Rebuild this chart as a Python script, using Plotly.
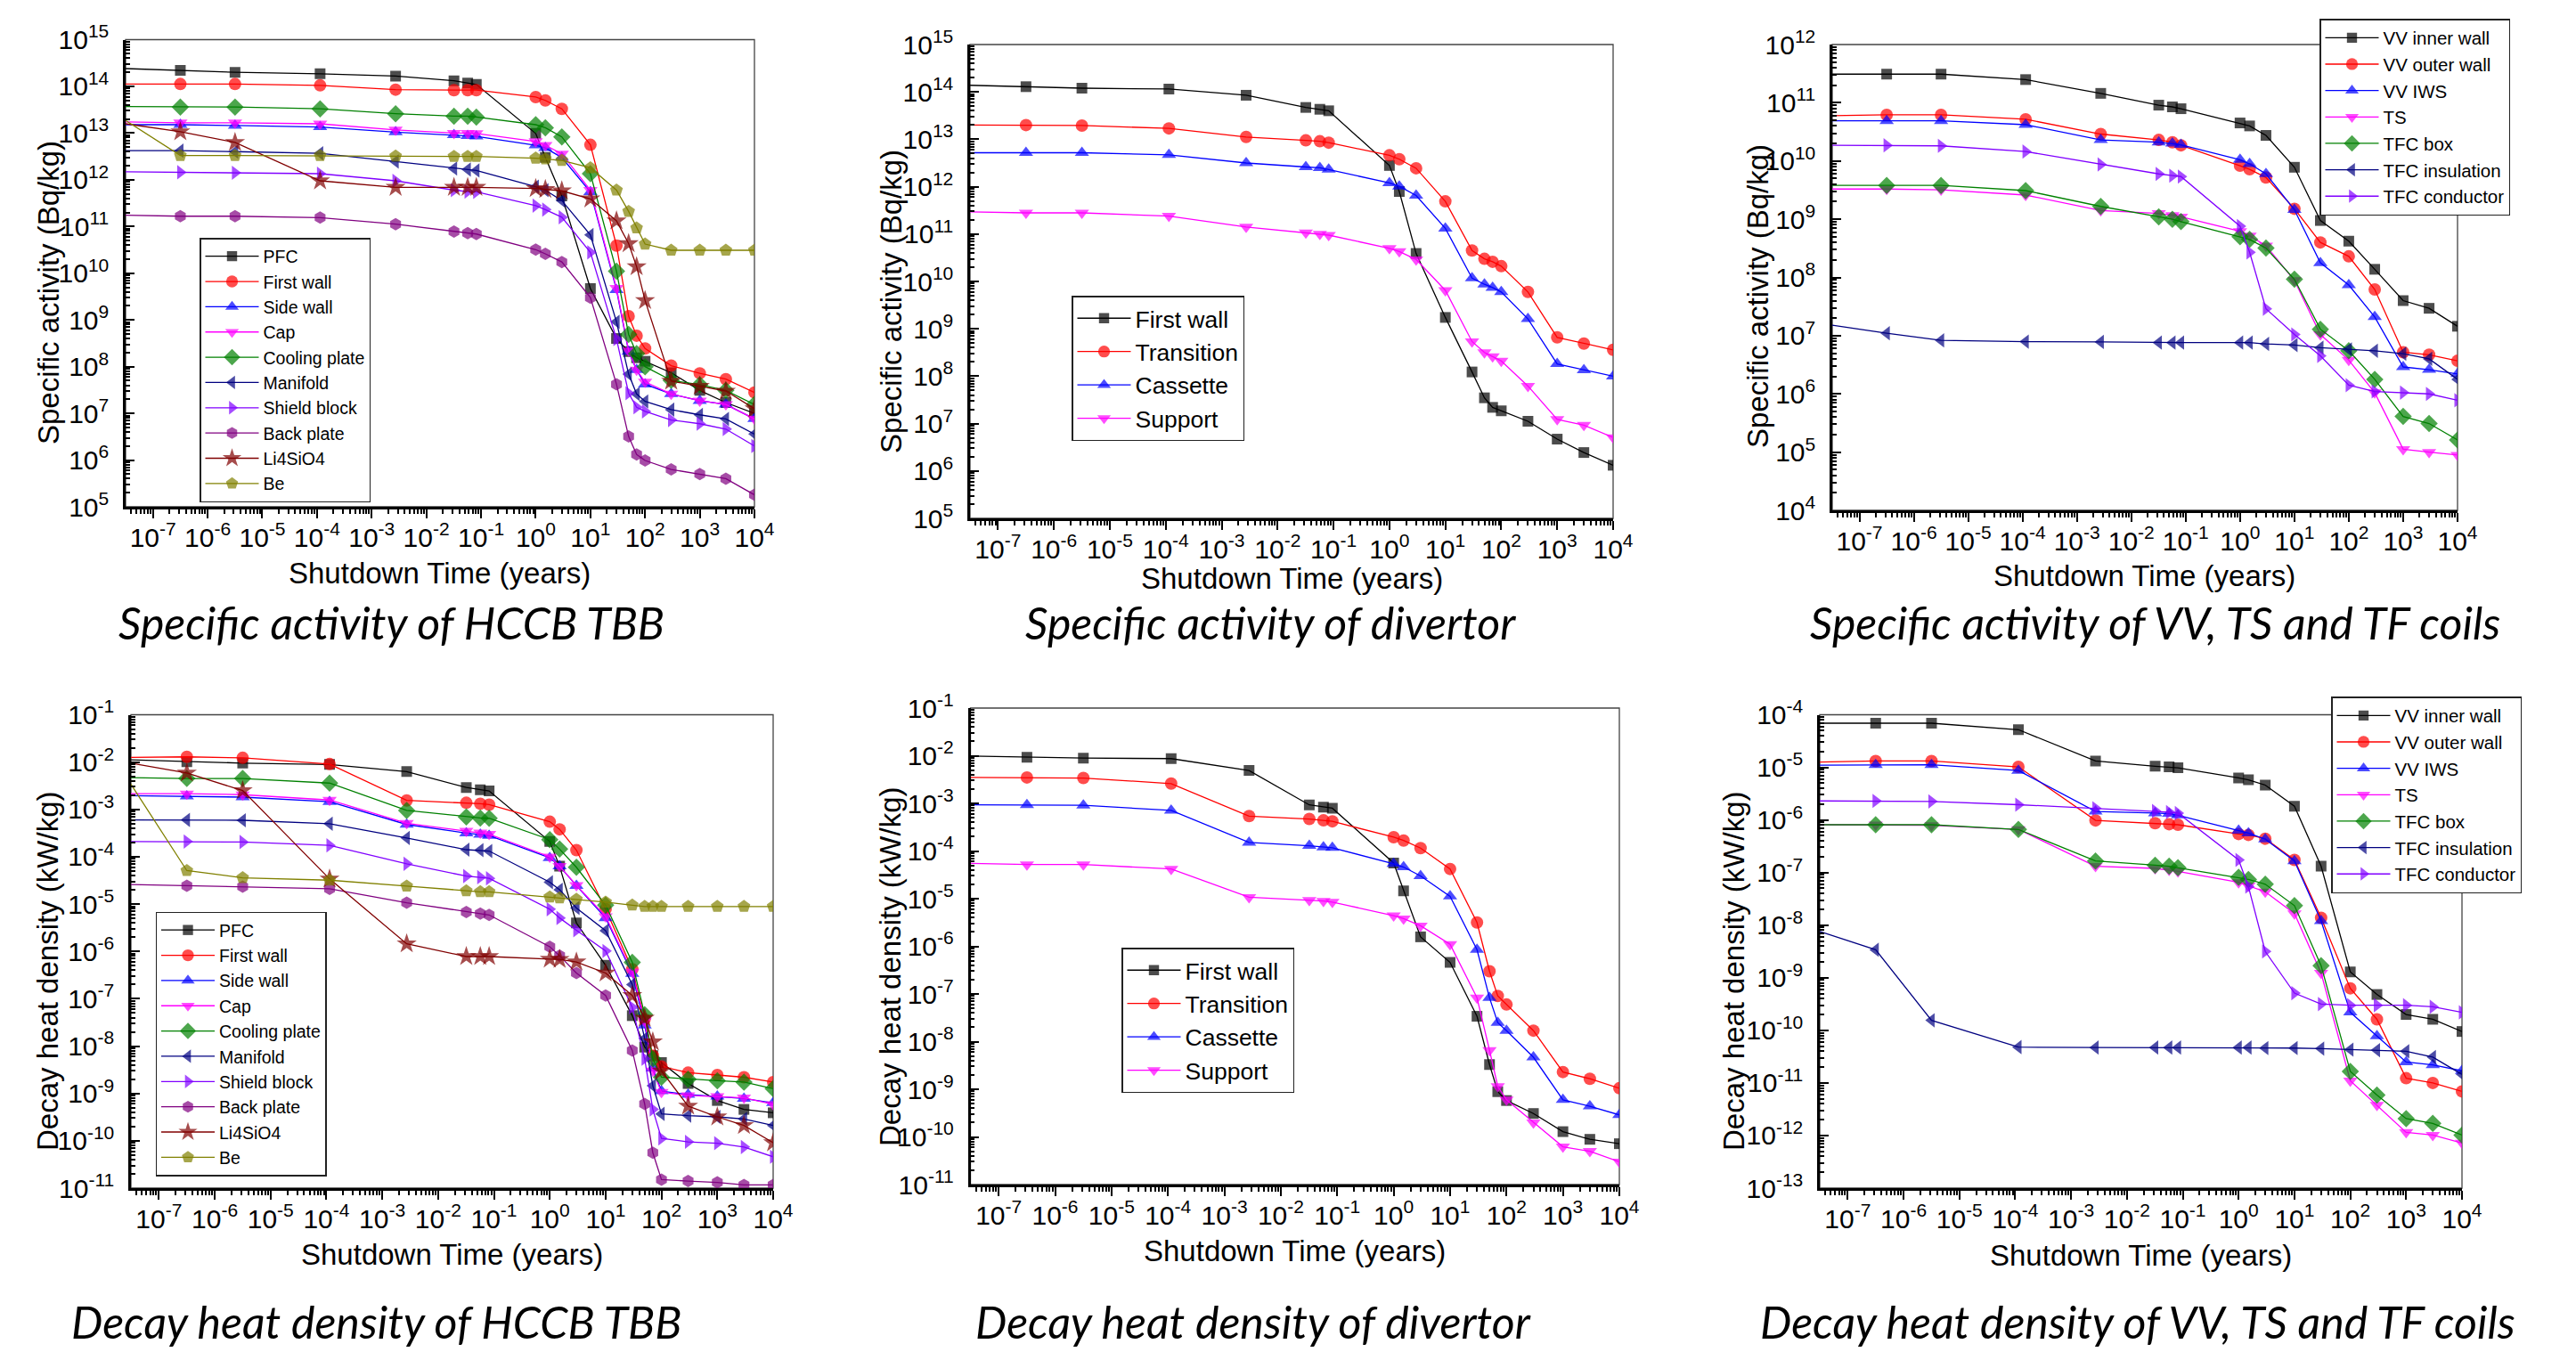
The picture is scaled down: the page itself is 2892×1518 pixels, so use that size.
import plotly.graph_objects as go

W, H = 2892, 1518   # browser window
OFF = 8             # default page body margin shifts the figure by this many pixels
FW, FH = W - OFF, H - OFF

# ---------------- data ----------------
# shutdown times (years)
T_BLANKET = [3.17e-8, 3.17e-7, 3.17e-6, 1.14e-4, 2.74e-3, 0.032, 0.057, 0.082,
             1, 1.5, 3, 10, 30, 50, 70, 100, 300, 1000, 3000, 10000]
T_COILS = [3.17e-8, 3.17e-7, 3.17e-6, 1.14e-4, 2.74e-3, 0.032, 0.057, 0.082,
           1, 1.5, 3, 10, 30, 100, 300, 1000, 3000, 10000]

TBB_NAMES = ["PFC", "First wall", "Side wall", "Cap", "Cooling plate", "Manifold",
             "Shield block", "Back plate", "Li4SiO4", "Be"]
DIV_NAMES = ["First wall", "Transition", "Cassette", "Support"]
VV_NAMES = ["VV inner wall", "VV outer wall", "VV IWS", "TS", "TFC box",
            "TFC insulation", "TFC conductor"]

# Specific activity of HCCB TBB (Bq/kg)
tbb_sa_pfc = [2.4e14, 2.2e14, 2.0e14, 1.86e14, 1.66e14, 1.32e14, 1.17e14, 1.1e14, 9.8e12, 3.0e12,
              4.5e11, 4.7e9, 4.0e8, 2.1e8, 1.55e8, 1.3e8, 7.4e7, 3.1e7, 1.7e7, 1.0e7]
tbb_sa_fw = [1.12e14, 1.12e14, 1.12e14, 1.05e14, 8.5e13, 8.3e13, 8.3e13, 8.3e13, 5.9e13, 5.0e13,
             3.3e13, 5.6e12, 3.9e10, 1.2e9, 4.6e8, 2.45e8, 1.05e8, 7.2e7, 5.4e7, 2.8e7]
tbb_sa_side = [1.51e13, 1.51e13, 1.45e13, 1.35e13, 1.05e13, 9.1e12, 8.7e12, 8.5e12, 5.5e12, 4.8e12,
               3.0e12, 5.5e11, 4.4e9, 2.1e8, 8.5e7, 4.2e7, 2.6e7, 1.86e7, 1.55e7, 7.6e6]
tbb_sa_cap = [1.74e13, 1.66e13, 1.66e13, 1.58e13, 1.17e13, 1.0e13, 1.0e13, 9.8e12, 6.6e12, 5.5e12,
              3.6e12, 6.0e11, 4.8e9, 2.2e8, 8.5e7, 4.7e7, 2.6e7, 1.86e7, 1.55e7, 7.6e6]
tbb_sa_cool = [3.7e13, 3.6e13, 3.6e13, 3.3e13, 2.6e13, 2.3e13, 2.3e13, 2.2e13, 1.51e13, 1.3e13,
               8.3e12, 1.35e12, 1.1e10, 4.9e8, 1.9e8, 1.0e8, 5.1e7, 4.1e7, 3.1e7, 1.55e7]
tbb_sa_manifold = [4.2e12, 4.2e12, 4.0e12, 3.7e12, 2.45e12, 1.74e12, 1.66e12, 1.58e12, 7.1e11, 6.0e11,
                   3.6e11, 6.6e10, 9.1e8, 6.9e7, 2.6e7, 1.8e7, 1.2e7, 9.3e6, 7.6e6, 3.6e6]
tbb_sa_shield = [1.48e12, 1.45e12, 1.41e12, 1.35e12, 9.5e11, 6.0e11, 5.6e11, 5.5e11, 2.8e11, 2.3e11,
                 1.58e11, 2.8e10, 3.9e8, 2.7e7, 1.35e7, 1.1e7, 7.2e6, 6.0e6, 4.6e6, 2.0e6]
tbb_sa_back = [1.74e11, 1.66e11, 1.66e11, 1.55e11, 1.12e11, 7.8e10, 7.2e10, 6.9e10, 3.2e10, 2.6e10,
               1.74e10, 3.0e9, 4.2e7, 3.2e6, 1.32e6, 9.8e5, 6.3e5, 5.0e5, 4.0e5, 1.8e5]
tbb_sa_li4sio4 = [1.58e13, 1.07e13, 6.3e12, 9.5e11, 6.9e11, 6.9e11, 6.9e11, 6.9e11, 6.5e11, 6.2e11,
                  5.8e11, 3.9e11, 1.32e11, 4.3e10, 1.38e10, 2.6e9, 4.9e7, 3.8e7, 3.0e7, 1.26e7]
tbb_sa_be = [1.86e13, 3.3e12, 3.3e12, 3.3e12, 3.2e12, 3.16e12, 3.16e12, 3.16e12, 2.9e12, 2.8e12,
             2.6e12, 1.8e12, 6.0e11, 2.1e11, 9.3e10, 4.2e10, 3.1e10, 3.1e10, 3.1e10, 3.1e10]

# Specific activity of divertor (Bq/kg)
div_sa_fw = [1.38e14, 1.29e14, 1.2e14, 1.15e14, 8.5e13, 4.7e13, 4.3e13, 4.0e13, 2.8e12, 7.9e11,
             3.9e10, 1.74e9, 1.23e8, 3.5e7, 2.2e7, 1.86e7, 1.12e7, 4.7e6, 2.45e6, 1.32e6]
div_sa_trans = [2.0e13, 2.0e13, 1.95e13, 1.7e13, 1.12e13, 9.5e12, 9.1e12, 8.5e12, 4.6e12, 3.8e12,
                2.45e12, 4.9e11, 4.5e10, 3.0e10, 2.6e10, 2.1e10, 6.0e9, 6.6e8, 4.9e8, 3.6e8]
div_sa_cass = [5.2e12, 5.2e12, 5.2e12, 4.7e12, 3.16e12, 2.6e12, 2.5e12, 2.3e12, 1.2e12, 1.02e12,
               6.5e11, 1.32e11, 1.17e10, 8.7e9, 7.4e9, 6.0e9, 1.62e9, 1.82e8, 1.35e8, 1.0e8]
div_sa_supp = [2.95e11, 2.8e11, 2.8e11, 2.4e11, 1.41e11, 1.07e11, 1.0e11, 9.5e10, 5.0e10, 4.3e10,
               2.9e10, 6.5e9, 5.4e8, 3.16e8, 2.6e8, 2.1e8, 6.2e7, 1.23e7, 9.3e6, 5.1e6]

# Specific activity of VV, TS and TF coils (Bq/kg)
vv_sa_inner = [3.1e11, 3.1e11, 3.1e11, 2.5e11, 1.45e11, 9.1e10, 8.5e10, 7.9e10, 4.5e10, 4.0e10,
               2.75e10, 7.8e9, 9.5e8, 4.2e8, 1.38e8, 4.0e7, 2.95e7, 1.45e7]
vv_sa_outer = [6.0e10, 6.2e10, 6.2e10, 5.2e10, 2.9e10, 2.3e10, 2.1e10, 1.86e10, 8.3e9, 7.2e9,
               5.2e9, 1.51e9, 4.0e8, 2.3e8, 6.2e7, 5.2e6, 4.7e6, 3.7e6]
vv_sa_iws = [4.9e10, 4.9e10, 4.9e10, 4.2e10, 2.3e10, 2.1e10, 2.0e10, 1.9e10, 1.05e10, 8.9e9,
             6.0e9, 1.45e9, 1.78e8, 7.4e7, 2.1e7, 2.9e6, 2.6e6, 2.2e6]
vv_sa_ts = [3.3e9, 3.3e9, 3.2e9, 2.6e9, 1.41e9, 1.26e9, 1.17e9, 1.1e9, 6.2e8, 5.2e8,
            3.5e8, 8.9e7, 1.05e7, 3.8e6, 1.05e6, 1.12e5, 1.0e5, 8.9e4]
vv_sa_tfbox = [3.8e9, 3.8e9, 3.8e9, 3.1e9, 1.66e9, 1.1e9, 1.0e9, 9.1e8, 5.0e8, 4.5e8,
               3.2e8, 9.3e7, 1.29e7, 5.5e6, 1.78e6, 4.1e5, 3.1e5, 1.62e5]
vv_sa_tfins = [1.51e7, 1.1e7, 8.3e6, 7.9e6, 7.8e6, 7.6e6, 7.6e6, 7.6e6, 7.6e6, 7.6e6,
               7.2e6, 6.9e6, 6.2e6, 5.8e6, 5.5e6, 4.9e6, 4.0e6, 1.78e6]
vv_sa_tfcond = [1.86e10, 1.86e10, 1.82e10, 1.45e10, 8.7e9, 6.0e9, 5.6e9, 5.4e9, 7.6e8, 2.7e8,
                2.9e7, 1.05e7, 4.5e6, 1.41e6, 1.1e6, 1.05e6, 1.0e6, 7.8e5]

# Decay heat density of HCCB TBB (kW/kg)
tbb_dh_pfc = [1.12e-2, 1.02e-2, 9.5e-3, 8.9e-3, 6.3e-3, 2.9e-3, 2.6e-3, 2.45e-3, 2.1e-4, 6.3e-5,
              4.0e-6, 5.1e-7, 4.4e-8, 9.5e-9, 6.3e-9, 4.5e-9, 1.62e-9, 7.1e-10, 4.6e-10, 3.9e-10]
tbb_dh_fw = [1.26e-2, 1.29e-2, 1.23e-2, 9.1e-3, 1.55e-3, 1.38e-3, 1.32e-3, 1.26e-3, 5.5e-4, 3.8e-4,
             1.38e-4, 7.8e-6, 4.2e-7, 3.7e-8, 6.3e-9, 3.7e-9, 2.75e-9, 2.45e-9, 2.2e-9, 1.74e-9]
tbb_dh_side = [1.95e-3, 1.9e-3, 1.82e-3, 1.45e-3, 4.8e-4, 3.16e-4, 2.95e-4, 2.8e-4, 9.5e-5, 6.3e-5,
               2.45e-5, 5.1e-6, 3.4e-7, 2.75e-8, 3.4e-9, 1.12e-9, 9.5e-10, 8.7e-10, 7.8e-10, 6.3e-10]
tbb_dh_cap = [2.15e-3, 2.15e-3, 2.05e-3, 1.58e-3, 5.1e-4, 3.5e-4, 3.2e-4, 3.0e-4, 1.0e-4, 6.3e-5,
              2.5e-5, 5.5e-6, 3.7e-7, 3.4e-8, 3.0e-9, 1.07e-9, 9.1e-10, 8.7e-10, 8.1e-10, 5.9e-10]
tbb_dh_cool = [4.7e-3, 4.5e-3, 4.5e-3, 3.6e-3, 9.5e-4, 6.9e-4, 6.6e-4, 6.5e-4, 2.3e-4, 1.45e-4,
               6.0e-5, 9.5e-6, 5.9e-7, 4.6e-8, 5.4e-9, 2.2e-9, 2.0e-9, 1.86e-9, 1.74e-9, 1.26e-9]
tbb_dh_manifold = [6.0e-4, 6.0e-4, 5.9e-4, 5.0e-4, 2.5e-4, 1.41e-4, 1.38e-4, 1.32e-4, 2.9e-5, 2.0e-5,
                   8.3e-6, 2.75e-6, 2.0e-7, 1.45e-8, 1.45e-9, 3.7e-10, 3.4e-10, 3.2e-10, 2.9e-10, 2.1e-10]
tbb_dh_shield = [2.1e-4, 2.1e-4, 2.05e-4, 1.74e-4, 7.1e-5, 3.9e-5, 3.7e-5, 3.5e-5, 7.8e-6, 5.1e-6,
                 2.8e-6, 1.02e-6, 6.6e-8, 5.4e-9, 4.6e-10, 1.12e-10, 9.5e-11, 8.9e-11, 7.4e-11, 4.6e-11]
tbb_dh_back = [2.6e-5, 2.45e-5, 2.35e-5, 2.1e-5, 1.07e-5, 6.8e-6, 6.3e-6, 5.9e-6, 1.26e-6, 8.1e-7,
               3.5e-7, 1.17e-7, 8.1e-9, 6.0e-10, 5.6e-11, 1.51e-11, 1.41e-11, 1.32e-11, 1.17e-11, 1.17e-11]
tbb_dh_li4sio4 = [9.5e-3, 5.9e-3, 2.5e-3, 3.4e-5, 1.45e-6, 7.8e-7, 7.8e-7, 7.8e-7, 6.9e-7, 6.8e-7,
                  6.0e-7, 3.5e-7, 1.17e-7, 3.9e-8, 1.23e-8, 3.0e-9, 5.4e-10, 3.2e-10, 2.1e-10, 9.1e-11]
tbb_dh_be = [3.4e-3, 5.1e-5, 3.6e-5, 3.2e-5, 2.4e-5, 1.9e-5, 1.82e-5, 1.82e-5, 1.41e-5, 1.35e-5,
             1.26e-5, 1.1e-5, 9.5e-6, 8.9e-6, 8.9e-6, 8.9e-6, 8.9e-6, 8.9e-6, 8.9e-6, 8.9e-6]

# Decay heat density of divertor (kW/kg)
div_dh_fw = [9.8e-3, 9.3e-3, 8.9e-3, 8.7e-3, 4.9e-3, 9.3e-4, 8.3e-4, 7.9e-4, 5.6e-5, 1.45e-5,
             1.58e-6, 4.6e-7, 3.4e-8, 3.3e-9, 8.9e-10, 5.8e-10, 3.1e-10, 1.29e-10, 8.9e-11, 7.2e-11]
div_dh_trans = [3.5e-3, 3.5e-3, 3.4e-3, 2.6e-3, 5.4e-4, 4.7e-4, 4.4e-4, 4.2e-4, 1.95e-4, 1.66e-4,
                1.15e-4, 4.2e-5, 3.16e-6, 3.0e-7, 9.1e-8, 6.0e-8, 1.7e-8, 2.3e-9, 1.66e-9, 1.05e-9]
div_dh_cass = [9.3e-4, 9.3e-4, 9.1e-4, 7.1e-4, 1.51e-4, 1.29e-4, 1.2e-4, 1.17e-4, 5.4e-5, 4.6e-5,
               3.0e-5, 1.12e-5, 8.5e-7, 8.3e-8, 2.5e-8, 1.7e-8, 4.7e-9, 6.0e-10, 4.4e-10, 2.9e-10]
div_dh_supp = [5.5e-5, 5.2e-5, 5.2e-5, 4.2e-5, 1.07e-5, 9.3e-6, 8.9e-6, 8.5e-6, 4.4e-6, 3.8e-6,
               2.7e-6, 1.1e-6, 8.3e-8, 6.6e-9, 1.15e-9, 6.0e-10, 2.0e-10, 6.2e-11, 5.0e-11, 3.0e-11]

# Decay heat density of VV, TS and TF coils (kW/kg)
vv_dh_inner = [6.9e-5, 6.9e-5, 6.9e-5, 5.2e-5, 1.32e-5, 1.05e-5, 1.02e-5, 9.8e-6, 6.3e-6, 5.8e-6,
               4.6e-6, 1.82e-6, 1.32e-7, 1.29e-9, 4.8e-10, 2.0e-10, 1.62e-10, 9.5e-11]
vv_dh_outer = [1.26e-5, 1.32e-5, 1.32e-5, 1.02e-5, 9.8e-7, 8.7e-7, 8.3e-7, 8.1e-7, 5.4e-7, 5.2e-7,
               4.4e-7, 1.74e-7, 1.38e-8, 6.3e-10, 1.62e-10, 1.23e-11, 1.0e-11, 6.9e-12]
vv_dh_iws = [1.1e-5, 1.12e-5, 1.12e-5, 8.7e-6, 1.45e-6, 1.35e-6, 1.32e-6, 1.23e-6, 6.3e-7, 5.6e-7,
             4.3e-7, 1.66e-7, 1.2e-8, 2.2e-10, 7.8e-11, 2.5e-11, 2.2e-11, 1.7e-11]
vv_dh_ts = [8.1e-7, 8.1e-7, 7.9e-7, 6.6e-7, 1.32e-7, 1.2e-7, 1.12e-7, 1.05e-7, 6.5e-8, 5.6e-8,
            4.3e-8, 1.66e-8, 1.23e-9, 1.1e-11, 3.8e-12, 1.15e-12, 1.02e-12, 7.2e-13]
vv_dh_tfbox = [8.1e-7, 8.1e-7, 8.1e-7, 6.6e-7, 1.66e-7, 1.38e-7, 1.32e-7, 1.23e-7, 8.1e-8, 7.4e-8,
               6.0e-8, 2.35e-8, 1.7e-9, 1.66e-11, 5.9e-12, 2.1e-12, 1.7e-12, 1.02e-12]
vv_dh_tfins = [7.6e-9, 3.4e-9, 1.55e-10, 4.8e-11, 4.7e-11, 4.7e-11, 4.7e-11, 4.7e-11, 4.7e-11, 4.7e-11,
               4.6e-11, 4.6e-11, 4.5e-11, 4.3e-11, 4.2e-11, 4.0e-11, 3.1e-11, 1.45e-11]
vv_dh_tfcond = [2.3e-6, 2.3e-6, 2.25e-6, 1.95e-6, 1.66e-6, 1.48e-6, 1.41e-6, 1.35e-6, 1.74e-7, 5.4e-8,
                3.16e-9, 5.1e-10, 3.16e-10, 3.0e-10, 3.0e-10, 3.0e-10, 2.8e-10, 2.2e-10]

# tick exponents
X_EXP = [-7, -6, -5, -4, -3, -2, -1, 0, 1, 2, 3, 4]
Y_EXP_SA_TBB = [5, 6, 7, 8, 9, 10, 11, 12, 13, 14, 15]
Y_EXP_SA_DIV = [5, 6, 7, 8, 9, 10, 11, 12, 13, 14, 15]
Y_EXP_SA_VV = [4, 5, 6, 7, 8, 9, 10, 11, 12]
Y_EXP_DH_TBB = [-11, -10, -9, -8, -7, -6, -5, -4, -3, -2, -1]
Y_EXP_DH_DIV = [-11, -10, -9, -8, -7, -6, -5, -4, -3, -2, -1]
Y_EXP_DH_VV = [-13, -12, -11, -10, -9, -8, -7, -6, -5, -4]

SA_TITLE = "Specific activity (Bq/kg)"
DH_TITLE = "Decay heat density (kW/kg)"
X_TITLE = "Shutdown Time (years)"
CAPTIONS = ["Specific activity of HCCB TBB", "Specific activity of divertor",
            "Specific activity of VV, TS and TF coils", "Decay heat density of HCCB TBB",
            "Decay heat density of divertor", "Decay heat density of VV, TS and TF coils"]

# ---------------- styles ----------------
TBB_STYLE = [("#000000", "square"), ("#FF0000", "circle"), ("#0000FF", "triangle-up"),
             ("#FF00FF", "triangle-down"), ("#008000", "diamond"), ("#000080", "triangle-left"),
             ("#8000FF", "triangle-right"), ("#800080", "hexagon"), ("#800000", "star"),
             ("#808000", "pentagon")]
DIV_STYLE = TBB_STYLE[:4]
VV_STYLE = TBB_STYLE[:7]
MSIZE = {"square": 12, "circle": 14, "triangle-up": 14, "triangle-down": 14, "diamond": 15,
         "triangle-left": 14, "triangle-right": 14, "hexagon": 14, "star": 17, "pentagon": 15}

# layout positions in window pixels: plot box (left, right, top, bottom), axis-title centres,
# caption centre and legend top-left corner
panels = [
    dict(t=T_BLANKET, names=TBB_NAMES, style=TBB_STYLE, yexp=Y_EXP_SA_TBB, ytitle=SA_TITLE,
         vals=[tbb_sa_pfc, tbb_sa_fw, tbb_sa_side, tbb_sa_cap, tbb_sa_cool, tbb_sa_manifold,
               tbb_sa_shield, tbb_sa_back, tbb_sa_li4sio4, tbb_sa_be],
         box=(141, 847, 44.5, 569), xt=(493, 643), yt=(54, 329), cap=(440, 699),
         leg=(224, 267), legfs=19.5),
    dict(t=T_BLANKET, names=DIV_NAMES, style=DIV_STYLE, yexp=Y_EXP_SA_DIV, ytitle=SA_TITLE,
         vals=[div_sa_fw, div_sa_trans, div_sa_cass, div_sa_supp],
         box=(1089, 1811, 50, 582), xt=(1450, 649), yt=(1000, 339), cap=(1426, 699),
         leg=(1203, 332), legfs=26.5),
    dict(t=T_COILS, names=VV_NAMES, style=VV_STYLE, yexp=Y_EXP_SA_VV, ytitle=SA_TITLE,
         vals=[vv_sa_inner, vv_sa_outer, vv_sa_iws, vv_sa_ts, vv_sa_tfbox, vv_sa_tfins, vv_sa_tfcond],
         box=(2057, 2759, 50, 573), xt=(2407, 647), yt=(1973, 333), cap=(2419, 699),
         leg=(2604, 21), legfs=20.5),
    dict(t=T_BLANKET, names=TBB_NAMES, style=TBB_STYLE, yexp=Y_EXP_DH_TBB, ytitle=DH_TITLE,
         vals=[tbb_dh_pfc, tbb_dh_fw, tbb_dh_side, tbb_dh_cap, tbb_dh_cool, tbb_dh_manifold,
               tbb_dh_shield, tbb_dh_back, tbb_dh_li4sio4, tbb_dh_be],
         box=(147, 868, 802.5, 1334), xt=(507, 1408), yt=(53, 1091), cap=(422, 1484),
         leg=(174.5, 1023.5), legfs=19.5),
    dict(t=T_BLANKET, names=DIV_NAMES, style=DIV_STYLE, yexp=Y_EXP_DH_DIV, ytitle=DH_TITLE,
         vals=[div_dh_fw, div_dh_trans, div_dh_cass, div_dh_supp],
         box=(1089.5, 1818, 795, 1330), xt=(1453, 1404), yt=(999, 1086), cap=(1407, 1484),
         leg=(1259, 1064), legfs=26.5),
    dict(t=T_COILS, names=VV_NAMES, style=VV_STYLE, yexp=Y_EXP_DH_VV, ytitle=DH_TITLE,
         vals=[vv_dh_inner, vv_dh_outer, vv_dh_iws, vv_dh_ts, vv_dh_tfbox, vv_dh_tfins, vv_dh_tfcond],
         box=(2043, 2764, 802.5, 1334), xt=(2403, 1409), yt=(1946, 1091), cap=(2400, 1484),
         leg=(2617, 782), legfs=20.5),
]

FONT = "Liberation Sans"


def fx(px):
    return (px - OFF) / FW


def fy(py):
    return 1 - (py - OFF) / FH


def sup_labels(exps):
    return ["10<sup>%d</sup>" % e for e in exps]


def minor_vals(lo, hi):
    return [m * 10.0 ** e for e in range(lo, hi + 1) for m in range(2, 10)]


fig = go.Figure()
layout = dict(width=FW, height=FH, margin=dict(l=0, r=0, t=0, b=0, pad=0, autoexpand=False),
              paper_bgcolor="white", plot_bgcolor="white", showlegend=True)
shapes, annotations = [], []

for i, p in enumerate(panels):
    k = "" if i == 0 else str(i + 1)
    legkey = "legend" if i == 0 else "legend%d" % (i + 1)
    l, r, top, bot = p["box"]
    n = len(p["t"])
    for name, vals, (color, sym) in zip(p["names"], p["vals"], p["style"]):
        s = MSIZE[sym]
        fig.add_trace(go.Scatter(
            x=p["t"], y=vals, name=name, mode="lines+markers",
            line=dict(color=color, width=1.3),
            marker=dict(symbol=sym, color=color, size=[0] + [s] * (n - 1),
                        line=dict(width=0)),
            xaxis="x" + k, yaxis="y" + k, legend=legkey))

    ye = p["yexp"]
    layout["xaxis" + k] = dict(
        domain=[fx(l), fx(r)], anchor="y" + k, type="log", range=[-7.5, 4],
        automargin=False,
        showline=True, linecolor="black", linewidth=2.5, mirror=False,
        ticks="outside", ticklen=10, tickwidth=2, tickcolor="black",
        tickmode="array", tickvals=[10.0 ** e for e in X_EXP], ticktext=sup_labels(X_EXP),
        tickfont=dict(family=FONT, size=30, color="black"), ticklabelstandoff=-4,
        showgrid=False, zeroline=False,
        minor=dict(tickmode="array", tickvals=minor_vals(-8, 3), ticks="outside",
                   ticklen=5, tickwidth=1.5, tickcolor="black", showgrid=False))
    layout["yaxis" + k] = dict(
        domain=[fy(bot), fy(top)], anchor="x" + k, type="log",
        range=[ye[0], ye[-1]], automargin=False,
        showline=True, linecolor="black", linewidth=2.5, mirror=False,
        ticks="inside", ticklen=10, tickwidth=2, tickcolor="black",
        tickmode="array", tickvals=[10.0 ** e for e in ye], ticktext=sup_labels(ye),
        tickfont=dict(family=FONT, size=30, color="black"), ticklabelstandoff=10,
        showgrid=False, zeroline=False,
        minor=dict(tickmode="array", tickvals=minor_vals(ye[0], ye[-1] - 1), ticks="inside",
                   ticklen=5, tickwidth=1.5, tickcolor="black", showgrid=False))
    layout[legkey] = dict(
        x=fx(p["leg"][0]), y=fy(p["leg"][1]), xanchor="left", yanchor="top",
        bgcolor="white", bordercolor="#222222", borderwidth=1.5,
        font=dict(family=FONT, size=p["legfs"], color="black"),
        tracegroupgap=0, itemwidth=60)

    shapes.append(dict(type="rect", xref="x%s domain" % k, yref="y%s domain" % k,
                       x0=0, x1=1, y0=0, y1=1, line=dict(color="#444444", width=1.3),
                       layer="below"))

    annotations.append(dict(text=X_TITLE, xref="paper", yref="paper",
                            x=fx(p["xt"][0]), y=fy(p["xt"][1]), xanchor="center",
                            yanchor="middle", showarrow=False,
                            font=dict(family=FONT, size=33, color="black")))
    annotations.append(dict(text=p["ytitle"], xref="paper", yref="paper",
                            x=fx(p["yt"][0]), y=fy(p["yt"][1]), xanchor="center",
                            yanchor="middle", showarrow=False, textangle=-90,
                            font=dict(family=FONT, size=33, color="black")))
    annotations.append(dict(text="<i>%s</i>" % CAPTIONS[i], xref="paper", yref="paper",
                            x=fx(p["cap"][0]), y=fy(p["cap"][1]), xanchor="center",
                            yanchor="middle", showarrow=False,
                            font=dict(family="Lato", size=50, color="black")))

layout["shapes"] = shapes
layout["annotations"] = annotations
fig.update_layout(**layout)
fig.write_html("out.html")
